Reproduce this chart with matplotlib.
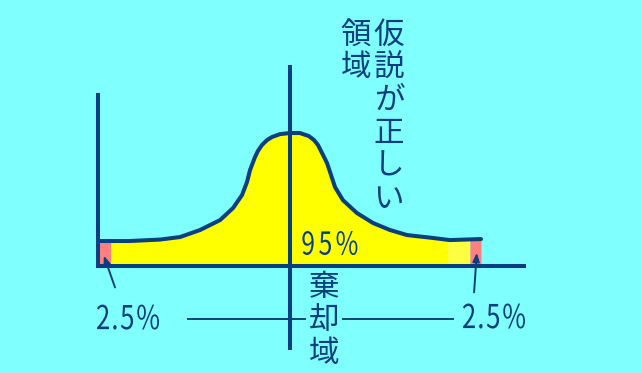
import numpy as np
import matplotlib.pyplot as plt
from matplotlib.textpath import TextPath
from matplotlib.patches import PathPatch
from matplotlib.font_manager import FontProperties
from matplotlib.transforms import Affine2D, IdentityTransform

# -----------------------------
# Data (curve, peak = 1)
# -----------------------------
x_curve = [-1.0, -0.84, -0.68, -0.576, -0.471, -0.366, -0.298, -0.251, -0.225,
           -0.209, -0.183, -0.168, -0.147, -0.120, -0.094, -0.052, 0.0, 0.052,
           0.099, 0.126, 0.147, 0.168, 0.194, 0.236, 0.277, 0.351, 0.435,
           0.524, 0.613, 0.749, 0.838, 1.0]
y_curve = [0.185, 0.185, 0.196, 0.215, 0.268, 0.343, 0.434, 0.532, 0.630,
           0.721, 0.819, 0.864, 0.909, 0.947, 0.970, 0.992, 1.0, 1.0,
           0.977, 0.947, 0.909, 0.849, 0.774, 0.592, 0.494, 0.396, 0.321,
           0.268, 0.230, 0.208, 0.192, 0.2]

# region boundaries along x
left_tail = (-1.0, -0.937)
accept = (-0.937, 0.822)
accept_edge = (0.822, 0.942)
right_tail = (0.942, 1.0)

tail_label = "2.5%"
center_label = "95%"
hyp_label = "仮説が正しい"
region_label = "領域"
reject_label = "棄却域"

# -----------------------------
# Style
# -----------------------------
bg = "#80ffff"
navy = "#0a3f7f"
yellow = "#ffff00"
light_yellow = "#ffff40"
pink = "#ff8080"

cjk_font = ["Noto Sans CJK JP", "DejaVu Sans"]
num_prop = FontProperties(family="Noto Sans CJK JP")

fig = plt.figure(figsize=(6.42, 3.73), dpi=100)
fig.patch.set_facecolor(bg)
ax = fig.add_axes([0, 0, 1, 1])
ax.set_facecolor(bg)
ax.set_xlim(-1.518, 1.843)
ax.set_ylim(-0.811, 2.004)
ax.axis("off")


def fill_region(a, b, color):
    xs = np.linspace(a, b, 200)
    ys = np.interp(xs, x_curve, y_curve)
    ax.fill_between(xs, 0, ys, color=color, linewidth=0, zorder=1)


fill_region(*left_tail, pink)
fill_region(*accept, yellow)
fill_region(*accept_edge, light_yellow)
fill_region(*right_tail, pink)

ax.plot(x_curve, y_curve, color=navy, lw=2.9, solid_capstyle="round",
        solid_joinstyle="round", zorder=3)

# axes lines
ax.plot([-1.005, -1.005], [0, 1.287], color=navy, lw=2.9, zorder=4)
ax.plot([-1.005, 1.225], [0, 0], color=navy, lw=2.9, zorder=4)
ax.plot([0, 0], [-0.623, 1.498], color=navy, lw=2.9, zorder=4)

# guide line under the axis
ax.plot([-0.534, 0.0785], [-0.404, -0.404], color=navy, lw=1.4, zorder=2)
ax.plot([0.277, 0.853], [-0.404, -0.404], color=navy, lw=1.4, zorder=2)

# arrows to the tails
arrow = dict(arrowstyle="-|>,head_length=0.5,head_width=0.2", color=navy, lw=1.4)
ax.annotate("", xy=(-0.979, 0.094), xytext=(-0.911, -0.185), arrowprops=arrow, zorder=5)
ax.annotate("", xy=(0.979, 0.117), xytext=(0.963, -0.223), arrowprops=arrow, zorder=5)


def narrow_text(s, x, y, width_px, height_px, squeeze=0.78):
    # condensed label: glyphs squeezed sideways, spread evenly over width_px
    full = TextPath((0, 0), s, size=30, prop=num_prop).get_extents()
    k = height_px / full.height
    glyphs = [TextPath((0, 0), ch, size=30, prop=num_prop) for ch in s]
    widths = [g.get_extents().width * k * squeeze for g in glyphs]
    gap = (width_px - sum(widths)) / (len(s) - 1)
    px, py = ax.transData.transform((x, y))
    left = px - width_px / 2
    base = py - (full.y0 + full.height / 2) * k
    for g, w in zip(glyphs, widths):
        e = g.get_extents()
        tr = (Affine2D().translate(-e.x0, 0)
              .scale(k * squeeze, k)
              .translate(left, base))
        fig.add_artist(PathPatch(tr.transform_path(g), facecolor=navy,
                                 edgecolor="none", transform=IdentityTransform(),
                                 zorder=6))
        left += w + gap


narrow_text(tail_label, -0.848, -0.389, 62, 25)
narrow_text(tail_label, 1.068, -0.381, 62, 25)
narrow_text(center_label, 0.209, 0.17, 55, 24)


def vertical_text(x, y_top, s, pitch=0.248):
    for i, ch in enumerate(s):
        ax.text(x, y_top - i * pitch, ch, color=navy, fontsize=22,
                family=cjk_font, ha="center", va="center", zorder=6)


vertical_text(0.518, 1.74, hyp_label)
vertical_text(0.346, 1.74, region_label)
vertical_text(0.178, -0.166, reject_label)

fig.savefig("out.png", dpi=100, facecolor=bg)
